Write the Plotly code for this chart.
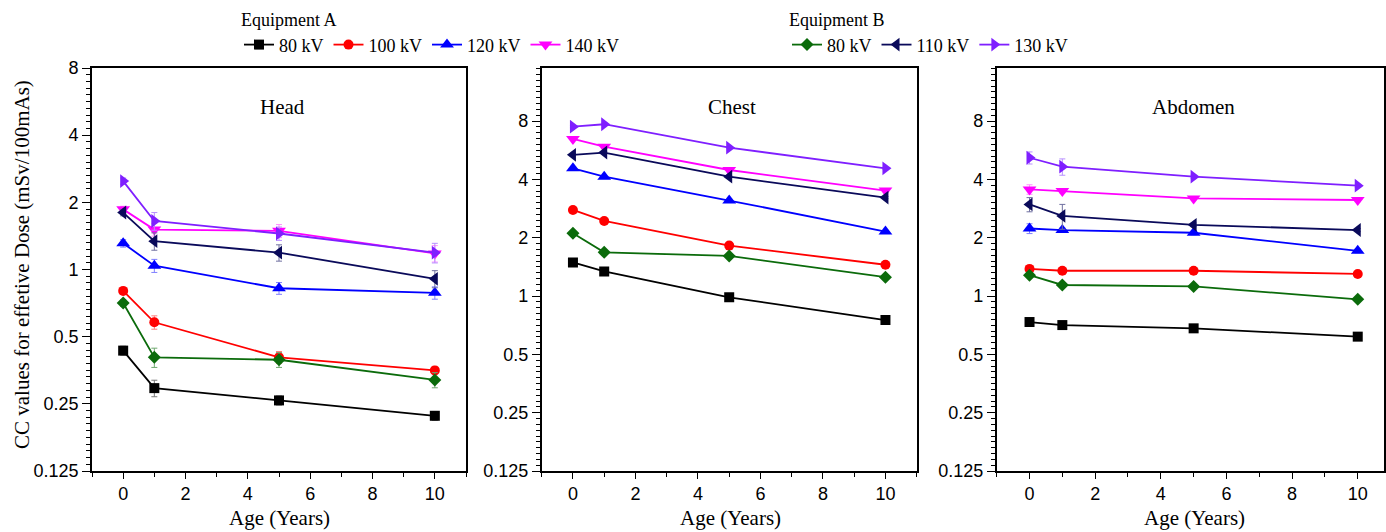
import math
import plotly.graph_objects as go

# ---------------- data ----------------
AGES = [0, 1, 5, 10]

SERIES_NAMES = ["80 kV", "100 kV", "120 kV", "140 kV", "80 kV", "110 kV", "130 kV"]
SERIES_GROUP = ["A", "A", "A", "A", "B", "B", "B"]

# Head
HEAD_A80 = [0.433, 0.294, 0.259, 0.221]
HEAD_A100 = [0.802, 0.580, 0.404, 0.353]
HEAD_A120 = [1.31, 1.04, 0.824, 0.786]
HEAD_A140 = [1.86, 1.51, 1.49, 1.18]
HEAD_B80 = [0.708, 0.404, 0.394, 0.320]
HEAD_B110 = [1.80, 1.34, 1.19, 0.908]
HEAD_B130 = [2.49, 1.65, 1.45, 1.19]

HEAD_A80_ERR = [0.02, 0.025, 0.012, 0.01]
HEAD_A100_ERR = [0.02, 0.04, 0.025, 0.015]
HEAD_A120_ERR = [0.05, 0.07, 0.05, 0.05]
HEAD_A140_ERR = [0.06, 0.10, 0.10, 0.10]
HEAD_B80_ERR = [0.025, 0.04, 0.03, 0.025]
HEAD_B110_ERR = [0.06, 0.12, 0.10, 0.08]
HEAD_B130_ERR = [0.08, 0.15, 0.10, 0.12]

# Chest
CHEST_A80 = [1.49, 1.34, 0.984, 0.751]
CHEST_A100 = [2.78, 2.44, 1.82, 1.45]
CHEST_A120 = [4.56, 4.13, 3.11, 2.15]
CHEST_A140 = [6.47, 5.90, 4.47, 3.50]
CHEST_B80 = [2.11, 1.68, 1.61, 1.25]
CHEST_B110 = [5.35, 5.50, 4.13, 3.22]
CHEST_B130 = [7.48, 7.70, 5.83, 4.56]

CHEST_A80_ERR = [0.02, 0.02, 0.015, 0.01]
CHEST_A100_ERR = [0.04, 0.03, 0.025, 0.02]
CHEST_A120_ERR = [0.06, 0.05, 0.04, 0.03]
CHEST_A140_ERR = [0.08, 0.07, 0.05, 0.04]
CHEST_B80_ERR = [0.03, 0.02, 0.02, 0.015]
CHEST_B110_ERR = [0.07, 0.07, 0.05, 0.04]
CHEST_B130_ERR = [0.1, 0.1, 0.07, 0.06]

# Abdomen
ABD_A80 = [0.734, 0.708, 0.681, 0.617]
ABD_A100 = [1.38, 1.35, 1.35, 1.30]
ABD_A120 = [2.23, 2.19, 2.12, 1.71]
ABD_A140 = [3.55, 3.48, 3.19, 3.13]
ABD_B80 = [1.28, 1.14, 1.12, 0.961]
ABD_B110 = [2.97, 2.59, 2.33, 2.19]
ABD_B130 = [5.17, 4.65, 4.13, 3.71]

ABD_A80_ERR = [0.015, 0.015, 0.012, 0.01]
ABD_A100_ERR = [0.03, 0.02, 0.02, 0.02]
ABD_A120_ERR = [0.13, 0.05, 0.05, 0.04]
ABD_A140_ERR = [0.2, 0.08, 0.06, 0.06]
ABD_B80_ERR = [0.03, 0.02, 0.02, 0.02]
ABD_B110_ERR = [0.25, 0.38, 0.05, 0.04]
ABD_B130_ERR = [0.37, 0.45, 0.08, 0.07]

PANEL_TITLES = ["Head", "Chest", "Abdomen"]
Y_TICKVALS = [0.125, 0.25, 0.5, 1, 2, 4, 8]
Y_TICKTEXT = ["0.125", "0.25", "0.5", "1", "2", "4", "8"]
Y_TOP = [8, 15.02, 15.02]
X_RANGES = [[-1, 11], [-1, 11], [-1, 10.8]]

PANELS = [
    [HEAD_A80, HEAD_A100, HEAD_A120, HEAD_A140, HEAD_B80, HEAD_B110, HEAD_B130],
    [CHEST_A80, CHEST_A100, CHEST_A120, CHEST_A140, CHEST_B80, CHEST_B110, CHEST_B130],
    [ABD_A80, ABD_A100, ABD_A120, ABD_A140, ABD_B80, ABD_B110, ABD_B130],
]
PANEL_ERRS = [
    [HEAD_A80_ERR, HEAD_A100_ERR, HEAD_A120_ERR, HEAD_A140_ERR, HEAD_B80_ERR, HEAD_B110_ERR, HEAD_B130_ERR],
    [CHEST_A80_ERR, CHEST_A100_ERR, CHEST_A120_ERR, CHEST_A140_ERR, CHEST_B80_ERR, CHEST_B110_ERR, CHEST_B130_ERR],
    [ABD_A80_ERR, ABD_A100_ERR, ABD_A120_ERR, ABD_A140_ERR, ABD_B80_ERR, ABD_B110_ERR, ABD_B130_ERR],
]

# ---------------- style ----------------
COLORS = ["#000000", "#FF0000", "#0000FF", "#FF00FF", "#0B6B0B", "#0A0A5A", "#7F1FFF"]
ERR_COLORS = ["#777777", "#FF8080", "#8080FF", "#FF90FF", "#70A870", "#7070A0", "#B890FF"]
SYMBOLS = ["square", "circle", "triangle-up", "triangle-down", "diamond", "triangle-left", "triangle-right"]
SIZES = [10, 10, 12, 12, 10, 12, 12]

W, H = 1386, 532
SERIF = "Liberation Serif, Times New Roman, serif"
SANS = "Liberation Sans, Arial, sans-serif"

X_DOMAINS = [[92 / W, 466 / W], [541.7 / W, 916.7 / W], [996.7 / W, 1384 / W]]
Y_DOMAIN = [1 - 471 / H, 1 - 68 / H]

minor_y = []
for k in range(-3, 4):
    for i in range(1, 10):
        minor_y.append(2 ** (k + i / 10))

fig = go.Figure()

for p in range(3):
    xa = "x" if p == 0 else f"x{p + 1}"
    ya = "y" if p == 0 else f"y{p + 1}"
    for s in range(7):
        fig.add_trace(go.Scatter(
            x=AGES, y=PANELS[p][s],
            mode="lines+markers",
            name=SERIES_NAMES[s],
            legend="legend" if SERIES_GROUP[s] == "A" else "legend2",
            showlegend=(p == 0),
            line=dict(color=COLORS[s], width=1.8),
            marker=dict(symbol=SYMBOLS[s], size=SIZES[s], color=COLORS[s]),
            error_y=dict(type="data", array=PANEL_ERRS[p][s], color=ERR_COLORS[s],
                         thickness=1, width=3),
            xaxis=xa, yaxis=ya,
        ))

layout = dict(
    template="none",
    width=W, height=H,
    margin=dict(l=0, r=0, t=0, b=0, pad=0, autoexpand=False),
    paper_bgcolor="white", plot_bgcolor="white",
    showlegend=True,
)

for p in range(3):
    n = "" if p == 0 else str(p + 1)
    yr = [math.log10(0.125), math.log10(Y_TOP[p])]
    layout[f"xaxis{n}"] = dict(
        domain=X_DOMAINS[p], anchor=f"y{n}", range=X_RANGES[p], automargin=False,
        tickmode="linear", tick0=0, dtick=2,
        ticks="outside", ticklen=6, tickwidth=1.3, tickcolor="black",
        minor=dict(ticks="outside", ticklen=4, tickwidth=1.1, tickcolor="black", dtick=1, tick0=0, showgrid=False),
        showline=True, linecolor="black", linewidth=1.6, mirror=True,
        showgrid=False, zeroline=False,
        tickfont=dict(family=SANS, size=18, color="black"),
    )
    layout[f"yaxis{n}"] = dict(
        domain=Y_DOMAIN, anchor=f"x{n}", type="log", range=yr, automargin=False,
        tickmode="array", tickvals=Y_TICKVALS, ticktext=Y_TICKTEXT,
        ticks="outside", ticklen=8, tickwidth=1.3, tickcolor="black",
        minor=dict(ticks="outside", ticklen=4, tickwidth=1, tickcolor="black",
                   tickmode="array", tickvals=minor_y, showgrid=False),
        showline=True, linecolor="black", linewidth=1.6, mirror=True,
        showgrid=False, zeroline=False,
        tickfont=dict(family=SANS, size=18, color="black"),
    )
    # mirrored inward ticks on top / right
    layout[f"xaxis{p + 4}"] = dict(
        domain=X_DOMAINS[p], anchor=f"y{n}", overlaying=f"x{n}", side="top", range=X_RANGES[p],
        automargin=False,
        tickmode="linear", tick0=0, dtick=2,
        ticks="inside", ticklen=6, tickwidth=1.3, tickcolor="black",
        minor=dict(ticks="inside", ticklen=4, tickwidth=1.1, tickcolor="black", dtick=1, tick0=0, showgrid=False),
        showticklabels=False, showline=False, showgrid=False, zeroline=False,
    )
    layout[f"yaxis{p + 4}"] = dict(
        domain=Y_DOMAIN, anchor=f"x{n}", overlaying=f"y{n}", side="right", type="log", range=yr,
        automargin=False,
        tickmode="array", tickvals=Y_TICKVALS,
        ticks="inside", ticklen=7, tickwidth=1.3, tickcolor="black",
        minor=dict(ticks="inside", ticklen=4, tickwidth=1, tickcolor="black",
                   tickmode="array", tickvals=minor_y, showgrid=False),
        showticklabels=False, showline=False, showgrid=False, zeroline=False,
    )

layout["legend"] = dict(
    title=dict(text="Equipment A", side="top", font=dict(family=SERIF, size=18, color="black")),
    orientation="h", x=239 / W, y=1 - 3 / H, xanchor="left", yanchor="top",
    font=dict(family=SERIF, size=18, color="black"),
    bgcolor="rgba(0,0,0,0)", borderwidth=0, itemwidth=30, tracegroupgap=0,
)
layout["legend2"] = dict(
    title=dict(text="Equipment B", side="top", font=dict(family=SERIF, size=18, color="black")),
    orientation="h", x=787 / W, y=1 - 3 / H, xanchor="left", yanchor="top",
    font=dict(family=SERIF, size=18, color="black"),
    bgcolor="rgba(0,0,0,0)", borderwidth=0, itemwidth=30, tracegroupgap=0,
)

annotations = []
TITLE_X = [282, 732, 1193]
XLAB_X = [279, 730, 1194]
for p in range(3):
    annotations.append(dict(text=PANEL_TITLES[p], x=TITLE_X[p] / W, y=1 - 107 / H, xref="paper", yref="paper",
                            showarrow=False, xanchor="center", yanchor="middle",
                            font=dict(family=SERIF, size=21, color="black")))
    annotations.append(dict(text="Age (Years)", x=XLAB_X[p] / W, y=1 - 518 / H, xref="paper", yref="paper",
                            showarrow=False, xanchor="center", yanchor="middle",
                            font=dict(family=SERIF, size=21, color="black")))
annotations.append(dict(text="CC values for effetive Dose (mSv/100mAs)", x=22 / W, y=1 - 265 / H,
                        xref="paper", yref="paper", showarrow=False, textangle=-90,
                        xanchor="center", yanchor="middle",
                        font=dict(family=SERIF, size=21, color="black")))
layout["annotations"] = annotations

fig.update_layout(**layout)
fig.write_html("out.html")
